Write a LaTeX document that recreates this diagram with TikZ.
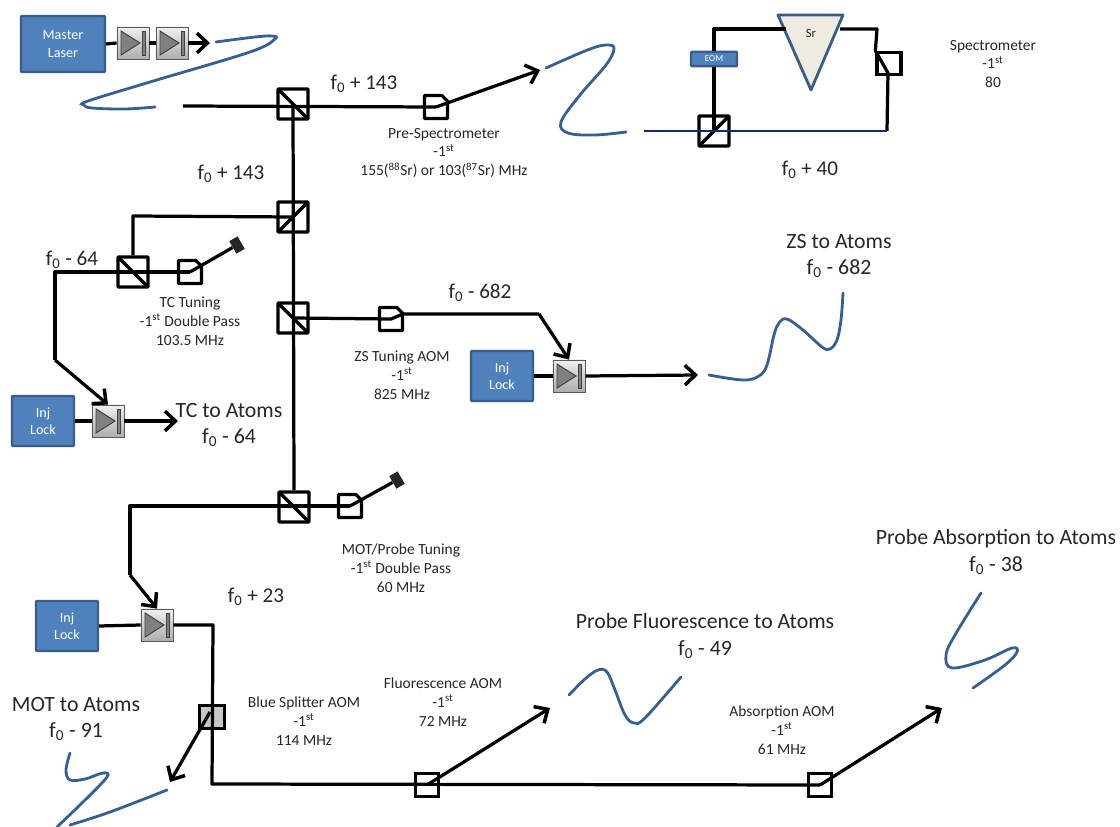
\documentclass[tikz,border=0pt]{standalone}
\usepackage{fontspec}
\setmainfont{Carlito}
\usepackage{tikz}
\usetikzlibrary{arrows.meta, shadows}
\definecolor{boxblue}  {RGB}{79, 129, 189}
\definecolor{boxedge}  {RGB}{56,  93, 138}
\definecolor{fiberclr} {RGB}{54,  96, 146}
\definecolor{navyclr}  {RGB}{16,  44, 100}
\definecolor{prismclr} {RGB}{238, 236, 225}
\definecolor{darktext} {RGB}{38,  38,  38}
\newcommand{\fz}{f\textsubscript{0}}
\newcommand{\first}{-1\textsuperscript{st}}
\tikzset{
  beam/.style={line width=2.3pt, black, line join=round},
  arrowbeam/.style={beam, -{Straight Barb[length=7.5pt, width=14pt, line width=2.5pt]}},
  fiber/.style={line width=2pt, fiberclr, line cap=round},
  bluebox/.style={draw=boxedge, fill=boxblue, line width=1.5pt, rounded corners=0.5pt,
    text=white, align=center, font=\fontsize{10}{12.5}\selectfont},
  lockbox/.style={bluebox, minimum width=1.55cm, minimum height=1.25cm},
  cubeplain/.style={draw=black, line width=2.3pt, minimum size=0.75cm, inner sep=0pt, rounded corners=0.5pt},
  pbsdown/.style={cubeplain, path picture={\draw[beam]
    (path picture bounding box.north west) -- (path picture bounding box.south east);}},
  pbsup/.style={cubeplain, path picture={\draw[beam]
    (path picture bounding box.south west) -- (path picture bounding box.north east);}},
  aom/.style={draw=black, line width=2.3pt, minimum width=0.56cm, minimum height=0.56cm, inner sep=0pt},
  aomcut/.style={minimum width=0.56cm, minimum height=0.56cm, inner sep=0pt,
    append after command={\pgfextra{\draw[beam]
      (\tikzlastnode.south west) -- (\tikzlastnode.north west)
      -- ([xshift=-0.14cm]\tikzlastnode.north east) -- ([yshift=-0.14cm]\tikzlastnode.north east)
      -- (\tikzlastnode.south east) -- cycle;}}},
  dump/.style={fill=darktext, minimum width=0.36cm, minimum height=0.24cm, inner sep=0pt, rotate=-60},
  isolator/.style={draw=black!65, line width=0.6pt, minimum size=0.8cm, inner sep=0pt,
    top color=black!6, bottom color=black!32, drop shadow={shadow xshift=0.3pt, shadow yshift=-1pt, opacity=0.35},
    path picture={
      \draw[black!75, fill=black!50, line width=0.7pt, shift={(path picture bounding box.center)}]
        (-12,-12) -- (7,0) -- (-12,12) -- cycle;
      \draw[black!75, fill=black!50, line width=0.7pt, shift={(path picture bounding box.center)}]
        (9,-12) rectangle (12,12);}},
  smalltxt/.style={darktext, align=center, font=\fontsize{11}{13.4}\selectfont},
  midtxt/.style={darktext, align=center, font=\fontsize{15}{18}\selectfont},
  largetxt/.style={darktext, align=center, font=\fontsize{15.5}{18.6}\selectfont},
}

\begin{document}
\begin{tikzpicture}[x=0.025cm, y=-0.025cm]
  \useasboundingbox (0,0) rectangle (1120,827);
  % lasers and isolators
  \node[bluebox, minimum width=2.1cm, minimum height=1.4cm] (master) at (63,44) {Master\\Laser};
  \node[isolator] (isoa) at (133,43) {};
  \node[isolator] (isob) at (172,43) {};
  \node[lockbox] (lockTc) at (43,421) {Inj\\Lock};
  \node[isolator] (isoTc) at (108,421) {};
  \node[lockbox] (lockZs) at (502,376) {Inj\\Lock};
  \node[isolator] (isoZs) at (569,376) {};
  \node[lockbox] (lockMot) at (67,626) {Inj\\Lock};
  \node[isolator] (isoMot) at (157,625) {};
  % cubes
  \node[pbsdown] (pbsTop) at (293,104) {};
  \node[pbsup] (pbsTc) at (293,217) {};
  \node[pbsdown] (pbsTune) at (133,272) {};
  \node[pbsdown] (pbsZs) at (293,318) {};
  \node[pbsdown] (pbsMot) at (294,507) {};
  \node[pbsup] (pbsSpec) at (714,131) {};
  % aoms
  \node[aomcut] (aomPre) at (436,107) {};
  \node[aomcut] (aomTc) at (190,272) {};
  \node[aomcut] (aomZs) at (391,319) {};
  \node[aomcut] (aomMot) at (350,506) {};
  \node[aom, minimum width=0.6cm] (aomSpec) at (889,63.5) {};
  \node[aom, fill=black!22, minimum width=0.62cm, minimum height=0.56cm] (aomBlue) at (212,717) {};
  \node[aom] (aomFl) at (427,785) {};
  \node[aom] (aomAb) at (820,785) {};
  % beam dumps
  \node[dump] (dumpTc) at (237,245) {};
  \node[dump] (dumpMot) at (397,480) {};
  % spectrometer parts
  \node[bluebox, minimum width=1.15cm, minimum height=0.36cm, inner sep=0pt,
    font=\fontsize{6.5}{8}\selectfont] (eom) at (714,59) {EOM};
  \draw[boxedge, fill=prismclr, line width=2pt, line join=round] (778,15) -- (843,15) -- (811,90) -- cycle;
  \node[font=\fontsize{9}{10}\selectfont, darktext] (sr) at (811,33) {Sr};
  % free ends
  \coordinate (endMaster) at (210,43);
  \coordinate (startTop) at (183,106);
  \coordinate (endPre) at (540,70);
  \coordinate (topL) at (714,29);
  \coordinate (prismL) at (786,29);
  \coordinate (prismR) at (840,29);
  \coordinate (topR) at (877,29);
  \coordinate (specIn) at (888,73);
  \coordinate (specOut) at (887,131);
  \coordinate (startBlue) at (644,131);
  \coordinate (tcCorner) at (133,216);
  \coordinate (tuneL) at (55,272);
  \coordinate (tuneD) at (55,360);
  \coordinate (endTc) at (178,421);
  \coordinate (zsL) at (403,314);
  \coordinate (zsR) at (539,314);
  \coordinate (endZs) at (698,375);
  \coordinate (motL) at (130,506);
  \coordinate (motD) at (130,575);
  \coordinate (blueTop) at (213,625);
  \coordinate (blueLow) at (212,784);
  \coordinate (blueStart) at (210,712);
  \coordinate (endBlue) at (170,782);
  \coordinate (endFl) at (550,708);
  \coordinate (endAb) at (942,708);
  % beams
  \draw[beam] (master.east) -- (isoa.west);
  \draw[beam] (isoa.east) -- (isob.west);
  \draw[arrowbeam] (isob.east) -- (endMaster);
  \draw[beam] (startTop) -- (aomPre.center);
  \draw[arrowbeam] (aomPre.center) -- (endPre);
  \draw[beam] (pbsTop.center) -- (pbsMot.north);
  \draw[beam] (pbsTc.center) -- (tcCorner) -- (pbsTune.north);
  \draw[beam] (aomTc.center) -- (tuneL) -- (tuneD);
  \draw[arrowbeam] (tuneD) -- (isoTc.north);
  \draw[beam] (aomTc.center) -- (dumpTc);
  \draw[beam] (lockTc.east) -- (isoTc.west);
  \draw[arrowbeam] (isoTc.east) -- (endTc);
  \draw[beam] (pbsZs.center) -- (aomZs.center) -- (zsL) -- (zsR);
  \draw[arrowbeam] (zsR) -- (isoZs.north);
  \draw[beam] (lockZs.east) -- (isoZs.west);
  \draw[arrowbeam] (isoZs.east) -- (endZs);
  \draw[beam] (aomMot.center) -- (motL) -- (motD);
  \draw[arrowbeam] (motD) -- (isoMot.north);
  \draw[beam] (aomMot.center) -- (dumpMot);
  \draw[beam] (lockMot.east) -- (isoMot.west);
  \draw[beam] (isoMot.east) -- (blueTop) -- (blueLow) -- (aomAb.center);
  \draw[arrowbeam] (blueStart) -- (endBlue);
  \draw[arrowbeam] (aomFl.center) -- (endFl);
  \draw[arrowbeam] (aomAb.center) -- (endAb);
  % spectrometer beams
  \draw[beam] (pbsSpec.center) -- (eom.south);
  \draw[beam] (eom.north) -- (topL) -- (prismL);
  \draw[beam] (prismR) -- (topR) -- (aomSpec.north west) -- (specIn) -- (specOut);
  \draw[navyclr, line width=2pt] (startBlue) -- (specOut);
  % fibers
  \draw[fiber] plot[smooth, tension=0.6] coordinates {(216,42) (255,37) (272,36) (275,39) (250,52) (150,82) (88,101) (84,105) (92,108) (125,109) (155,107)};
  \draw[fiber] plot[smooth, tension=0.6] coordinates {(546,68) (590,49) (608,45) (614,49) (606,65) (580,95) (561,122) (568,133) (595,135) (626,132)};
  \draw[fiber] plot[smooth, tension=0.6] coordinates {(709,375) (743,380) (759,376) (767,365) (774,335) (779,323) (787,319) (803,330) (822,347) (830,349) (837,340) (841,320) (843,293)};
  \draw[fiber] plot[smooth, tension=0.6] coordinates {(569,695) (585,679) (598,670) (607,672) (615,690) (625,715) (634,723) (645,718) (681,677)};
  \draw[fiber] plot[smooth, tension=0.6] coordinates {(981,593) (955,635) (946,655) (952,668) (985,660) (1012,648) (1017,652) (1005,665) (973,688)};
  \draw[fiber] plot[smooth, tension=0.6] coordinates {(70,753) (66,770) (70,780) (85,779) (103,773) (107,777) (85,800) (57,827)};
  \draw[fiber] plot[smooth, tension=0.6] coordinates {(70,825) (110,812) (167,790)};
  % labels
  \node[midtxt] (lbTop) at (364,84) {\fz{} + 143};
  \node[smalltxt] (lbPre) at (444,153) {Pre-Spectrometer\\\first\\155(\textsuperscript{88}Sr) or 103(\textsuperscript{87}Sr) MHz};
  \node[smalltxt] (lbSpec) at (993,64) {Spectrometer\\\first\\80};
  \node[midtxt] (lbForty) at (810,170) {\fz{} + 40};
  \node[midtxt] (lbLeft) at (231,174) {\fz{} + 143};
  \node[midtxt] (lbTune) at (72,260) {\fz{} - 64};
  \node[smalltxt] (lbTc) at (190,321) {TC Tuning\\\first{} Double Pass\\103.5 MHz};
  \node[largetxt] (lbTcAt) at (229,425) {TC to Atoms\\\fz{} - 64};
  \node[midtxt] (lbZs) at (480,293) {\fz{} - 682};
  \node[smalltxt] (lbZsT) at (402,375) {ZS Tuning AOM\\\first\\825 MHz};
  \node[largetxt] (lbZsAt) at (839,256) {ZS to Atoms\\\fz{} - 682};
  \node[smalltxt] (lbMot) at (401,568) {MOT/Probe Tuning\\\first{} Double Pass\\60 MHz};
  \node[midtxt] (lbTwo) at (256,597) {\fz{} + 23};
  \node[smalltxt] (lbBlue) at (304,721) {Blue Splitter AOM\\\first\\114 MHz};
  \node[smalltxt] (lbFl) at (443,702) {Fluorescence AOM\\\first\\72 MHz};
  \node[smalltxt] (lbAb) at (782,730) {Absorption AOM\\\first\\61 MHz};
  \node[largetxt] (lbFlAt) at (705,636) {Probe Fluorescence to Atoms\\\fz{} - 49};
  \node[largetxt] (lbAbAt) at (996,552) {Probe Absorption to Atoms\\\fz{} - 38};
  \node[largetxt] (lbMotAt) at (76,719) {MOT to Atoms\\\fz{} - 91};
\end{tikzpicture}
\end{document}
